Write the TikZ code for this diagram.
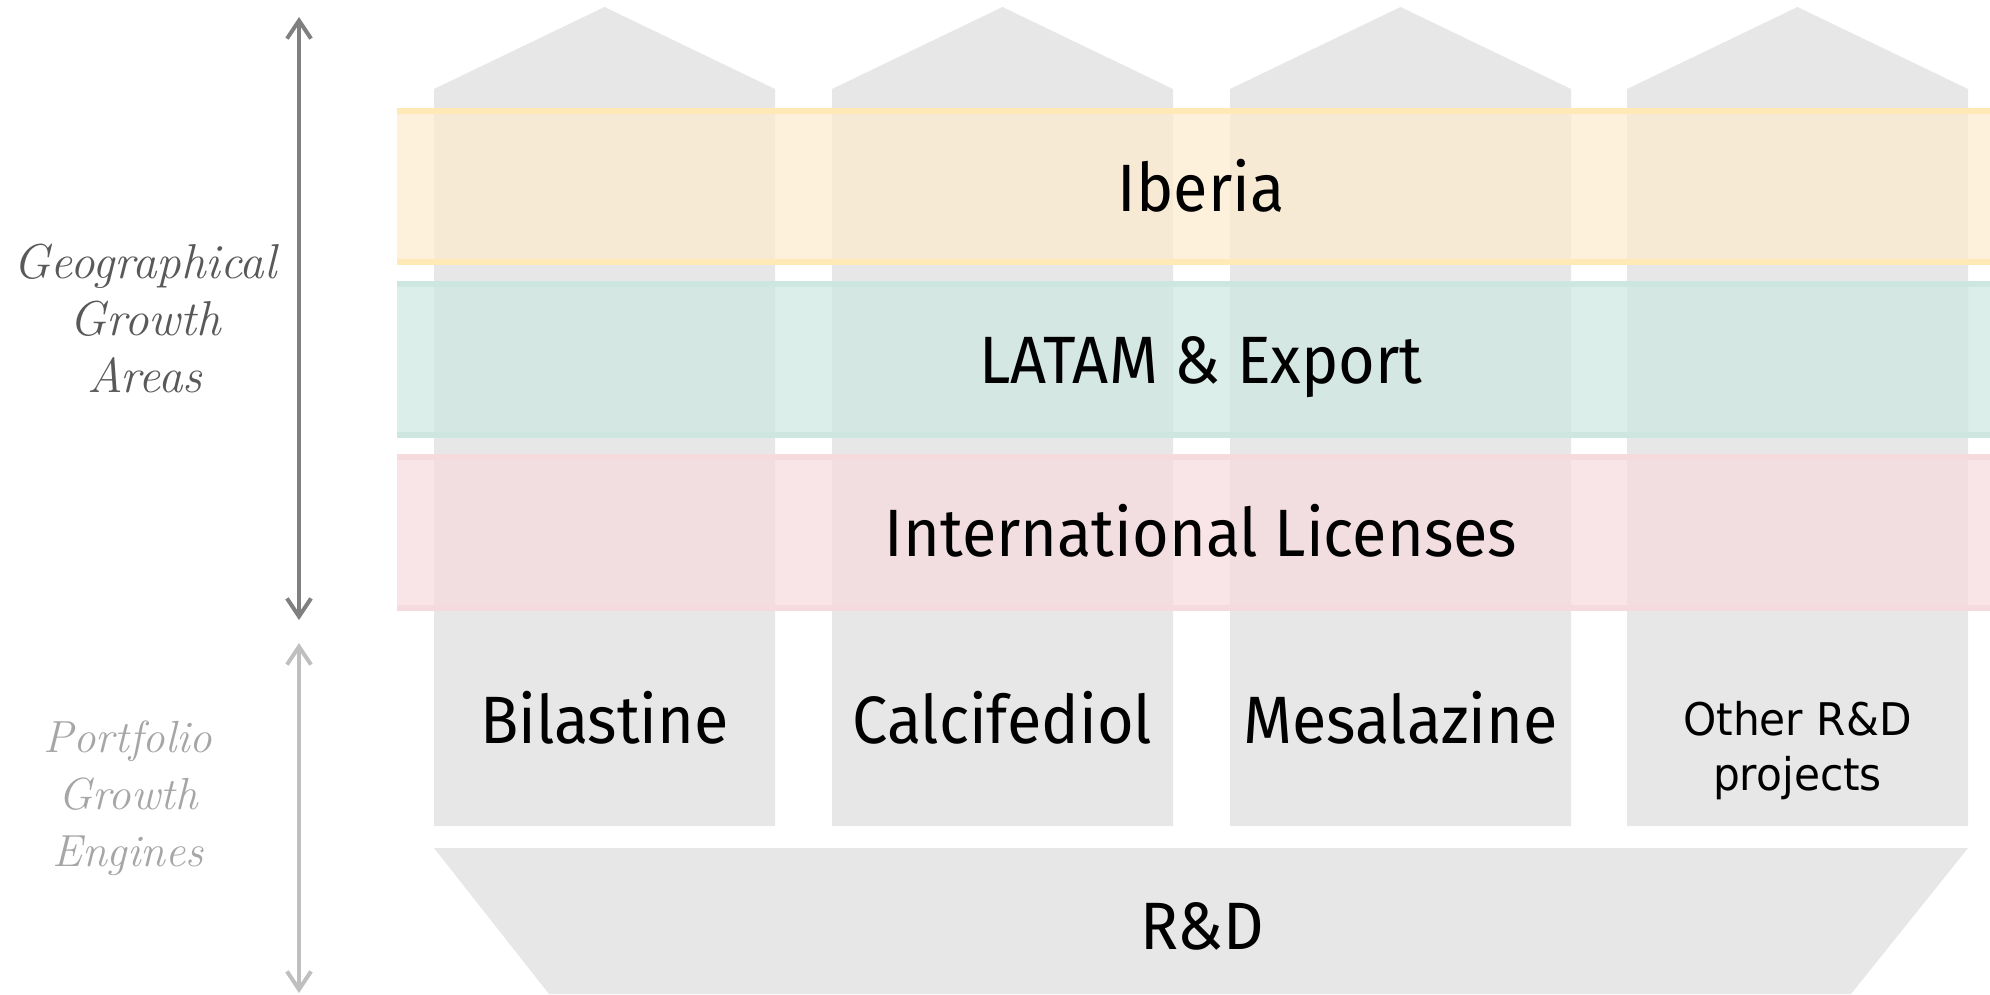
\documentclass[tikz,border=0pt]{standalone}
\usepackage{fontspec}
\usetikzlibrary{arrows.meta}
\newfontfamily\labelfont[FakeStretch=0.94]{Fira Sans}
\newfontfamily\smalllabelfont[FakeStretch=0.94]{DejaVu Sans}

\definecolor{pillargray}{RGB}{231,231,231}
\definecolor{yellowfill}{RGB}{253,236,208}
\definecolor{yellowline}{RGB}{255,233,182}
\definecolor{tealfill}{RGB}{207,232,226}
\definecolor{tealline}{RGB}{205,231,224}
\definecolor{pinkfill}{RGB}{247,220,223}
\definecolor{pinkline}{RGB}{245,218,222}
\definecolor{axisdark}{RGB}{128,128,128}
\definecolor{axislight}{RGB}{191,191,191}
\definecolor{handdark}{RGB}{89,89,89}
\definecolor{handlight}{RGB}{166,166,166}

\tikzset{
  pillar/.style={fill=pillargray, draw=none},
  bandfill/.style={fill=#1, fill opacity=0.75, draw=none},
  bandedge/.style={draw=#1, line width=6pt},
  biglabel/.style={font=\labelfont\fontsize{67}{80}\selectfont, text=black, anchor=base, inner sep=0pt},
  smalllabel/.style={font=\smalllabelfont\fontsize{45}{55}\selectfont, text=black, align=center, inner sep=0pt},
  handnote/.style={font=\itshape\fontsize{#1}{57}\selectfont, align=center, inner sep=0pt},
  axisarrow/.style={draw=#1, line width=4pt, {Straight Barb[length=18pt,width=24pt]}-{Straight Barb[length=18pt,width=24pt]}}
}

\begin{document}
\begin{tikzpicture}[x=1pt,y=-1pt]
\useasboundingbox (0,0) rectangle (1990,994);

% four pillars with pointed tops
\foreach \l in {434,832,1230,1627}{
  \fill[pillar] (\l,89) -- ({\l+170.5},7) -- ({\l+341},89) -- ({\l+341},826) -- (\l,826) -- cycle;
}

% R&D base
\fill[pillar] (434,848) -- (1968,848) -- (1851,994) -- (549,994) -- cycle;

% translucent geographical bands
\fill[bandfill=yellowfill] (397,108) rectangle (1990,265);
\draw[bandedge=yellowline] (397,111) -- (1990,111);
\draw[bandedge=yellowline] (397,262) -- (1990,262);

\fill[bandfill=tealfill] (397,281) rectangle (1990,438);
\draw[bandedge=tealline] (397,284) -- (1990,284);
\draw[bandedge=tealline] (397,435) -- (1990,435);

\fill[bandfill=pinkfill] (397,454) rectangle (1990,611);
\draw[bandedge=pinkline] (397,457) -- (1990,457);
\draw[bandedge=pinkline] (397,608) -- (1990,608);

% band labels
\node[biglabel] (iberia) at (1201,211) {Iberia};
\node[biglabel] (latam) at (1201,383) {LATAM \& Export};
\node[biglabel] (intl) at (1201,556) {International Licenses};

% pillar labels
\node[biglabel] (bilastine) at (604.5,743) {Bilastine};
\node[biglabel] (calcifediol) at (1002.5,743) {Calcifediol};
\node[biglabel] (mesalazine) at (1400.5,743) {Mesalazine};
\node[smalllabel, anchor=base] (other) at (1797.5,790) {Other R\&D\\projects};
\node[biglabel] (rd) at (1202,949) {R\&D};

% side axes
\coordinate (geotop) at (299,17);
\coordinate (geobot) at (299,620);
\coordinate (porttop) at (299,643);
\coordinate (portbot) at (299,993);
\draw[axisarrow=axisdark] (geotop) -- (geobot);
\draw[axisarrow=axislight] (porttop) -- (portbot);

\node[handnote=49, text=handdark] (geonote) at (145,318) {Geographical\\Growth\\Areas};
\node[handnote=45, text=handlight] (portnote) at (128,798) {Portfolio\\Growth\\Engines};
\end{tikzpicture}
\end{document}
